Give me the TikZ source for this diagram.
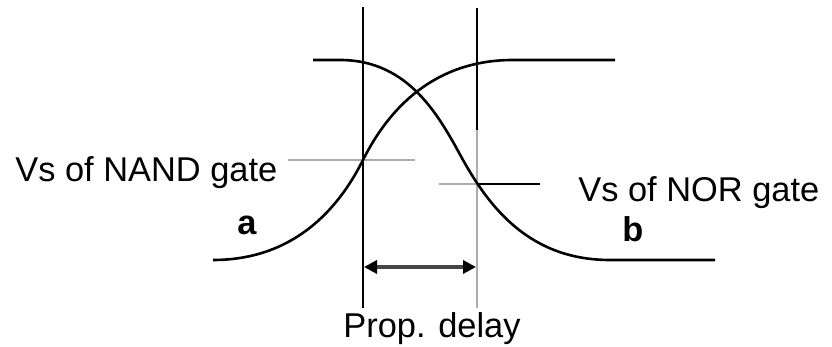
\documentclass[tikz,border=0pt]{standalone}
\usepackage{fontspec}
\setmainfont{Liberation Sans}
\usetikzlibrary{positioning, arrows.meta, calc}

\begin{document}
\begin{tikzpicture}[x=0.5pt, y=-0.5pt,
    curve/.style={line width=1.3pt, color=black},
    guide/.style={line width=0.9pt, color=black},
    faint/.style={line width=1pt, color=gray!65},
    lbl/.style={inner sep=0pt, anchor=base west, font=\fontsize{17.2}{20}\selectfont}]
    \useasboundingbox (0,0) rectangle (832,347);

    \coordinate (ltop) at (363,7);
    \coordinate (lbot) at (363,308);
    \coordinate (rtop) at (477,8);
    \coordinate (rmid) at (477,130);
    \coordinate (rbot) at (477,308);
    \coordinate (nandvs) at (363,160);
    \coordinate (norvs) at (477,184);

    % vertical markers
    \draw[guide] (ltop) -- (lbot);
    \draw[guide] (rtop) -- (rmid);
    \draw[faint] (rmid) -- (rbot);

    % switching thresholds
    \draw[faint] (288,160) -- (415,160);
    \draw[faint] (439,184) -- (norvs);
    \draw[guide] (norvs) -- (540,184);

    % curve a (rising)
    \draw[curve] (213,260) .. controls (293,260) and (338,210) .. (nandvs)
        .. controls (388,110) and (433,60) .. (513,60) -- (615,60);

    % curve b (falling)
    \draw[curve] (313,60) -- (340,60) .. controls (410,60) and (440,118) .. (463,160)
        .. controls (490,208) and (530,260) .. (610,260) -- (715,260);

    % delay arrow
    \coordinate (arrl) at (364,267);
    \coordinate (arrr) at (476,267);
    \draw[{Triangle[length=6.5pt, width=6.5pt, black]}-{Triangle[length=6.5pt, width=6.5pt, black]},
        line width=1.8pt, color=gray!55!black] (arrl) -- (arrr);

    \node[lbl] (nandlbl) at (15,182) {Vs of NAND gate};
    \node[lbl] (norlbl) at (578,202) {Vs of NOR gate};
    \node[lbl, font=\fontsize{17.2}{20}\selectfont\bfseries] (alabel) at (237,235) {a};
    \node[lbl, font=\fontsize{17.2}{20}\selectfont\bfseries] (blabel) at (622,242) {b};
    \node[lbl, anchor=base] (delay) at (432,338) {Prop. delay};

\end{tikzpicture}
\end{document}
